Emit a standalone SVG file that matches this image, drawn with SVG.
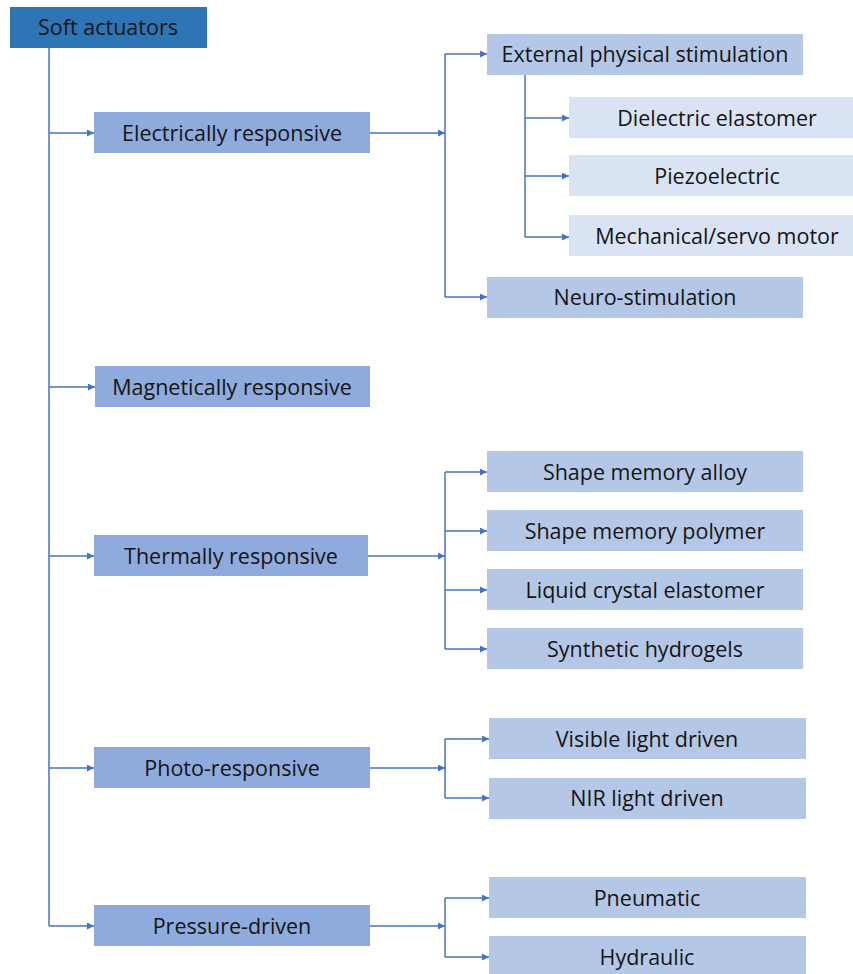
<svg xmlns="http://www.w3.org/2000/svg" width="853" height="974" viewBox="0 0 853 974">
<style>
text{font-family:"Open Sans","Liberation Sans",sans-serif;font-size:21.5px;fill:#151515;text-anchor:middle;dominant-baseline:central}
.c{stroke:#4472C4;stroke-width:1.5;fill:none}
.a{marker-end:url(#ah)}
.r0{fill:#2E75B6}
.r1{fill:#8FAADC}
.r2{fill:#B4C7E7}
.r3{fill:#DAE3F3}
</style>
<defs>
<marker id="ah" viewBox="0 0 10 10" refX="10" refY="5" markerWidth="7" markerHeight="7" markerUnits="userSpaceOnUse" orient="auto">
<path d="M0,0 L10,5 L0,10 Z" fill="#4472C4"/>
</marker>
</defs>
<g id="connectors">
<path class="c" d="M49,48 V926"/>
<path class="c a" d="M49,133 H94"/>
<path class="c a" d="M49,387 H95"/>
<path class="c a" d="M49,556 H94"/>
<path class="c a" d="M49,768 H94"/>
<path class="c a" d="M49,926 H94"/>
<path class="c a" d="M370,133 H445"/>
<path class="c" d="M445,54 V297"/>
<path class="c a" d="M445,54 H487"/>
<path class="c a" d="M445,297 H487"/>
<path class="c" d="M525,75 V237"/>
<path class="c a" d="M525,118 H569"/>
<path class="c a" d="M525,176 H569"/>
<path class="c a" d="M525,237 H569"/>
<path class="c a" d="M368,556 H445"/>
<path class="c" d="M445,472 V649"/>
<path class="c a" d="M445,472 H487"/>
<path class="c a" d="M445,531 H487"/>
<path class="c a" d="M445,590 H487"/>
<path class="c a" d="M445,649 H487"/>
<path class="c a" d="M370,768 H445"/>
<path class="c" d="M445,739 V798"/>
<path class="c a" d="M445,739 H489"/>
<path class="c a" d="M445,798 H489"/>
<path class="c a" d="M370,926 H445"/>
<path class="c" d="M445,898 V957"/>
<path class="c a" d="M445,898 H489"/>
<path class="c a" d="M445,957 H489"/>
</g>
<g id="soft-actuators"><rect class="r0" x="10" y="7" width="197" height="41"/><text x="108" y="26">Soft actuators</text></g>
<g id="electrically"><rect class="r1" x="94" y="112" width="276" height="41"/><text x="232" y="132">Electrically responsive</text></g>
<g id="magnetically"><rect class="r1" x="95" y="366" width="275" height="41"/><text x="232" y="386">Magnetically responsive</text></g>
<g id="thermally"><rect class="r1" x="94" y="535" width="274" height="41"/><text x="231" y="555">Thermally responsive</text></g>
<g id="photo"><rect class="r1" x="94" y="747" width="276" height="41"/><text x="232" y="767">Photo-responsive</text></g>
<g id="pressure"><rect class="r1" x="94" y="905" width="276" height="41"/><text x="232" y="925">Pressure-driven</text></g>
<g id="external"><rect class="r2" x="487" y="34" width="316" height="41"/><text x="645" y="53">External physical stimulation</text></g>
<g id="neuro"><rect class="r2" x="487" y="277" width="316" height="41"/><text x="645" y="296">Neuro-stimulation</text></g>
<g id="dielectric"><rect class="r3" x="569" y="97" width="284" height="41"/><text x="717" y="117">Dielectric elastomer</text></g>
<g id="piezo"><rect class="r3" x="569" y="155" width="284" height="41"/><text x="717" y="175">Piezoelectric</text></g>
<g id="mechanical"><rect class="r3" x="569" y="215" width="284" height="41"/><text x="717" y="235">Mechanical/servo motor</text></g>
<g id="sma"><rect class="r2" x="487" y="451" width="316" height="41"/><text x="645" y="471">Shape memory alloy</text></g>
<g id="smp"><rect class="r2" x="487" y="510" width="316" height="41"/><text x="645" y="530">Shape memory polymer</text></g>
<g id="lce"><rect class="r2" x="487" y="569" width="316" height="41"/><text x="645" y="589">Liquid crystal elastomer</text></g>
<g id="hydrogels"><rect class="r2" x="487" y="628" width="316" height="41"/><text x="645" y="648">Synthetic hydrogels</text></g>
<g id="visible"><rect class="r2" x="489" y="718" width="317" height="41"/><text x="647" y="738">Visible light driven</text></g>
<g id="nir"><rect class="r2" x="489" y="778" width="317" height="41"/><text x="647" y="797">NIR light driven</text></g>
<g id="pneumatic"><rect class="r2" x="489" y="877" width="317" height="41"/><text x="647" y="897">Pneumatic</text></g>
<g id="hydraulic"><rect class="r2" x="489" y="936" width="317" height="38"/><text x="647" y="956">Hydraulic</text></g>
</svg>
